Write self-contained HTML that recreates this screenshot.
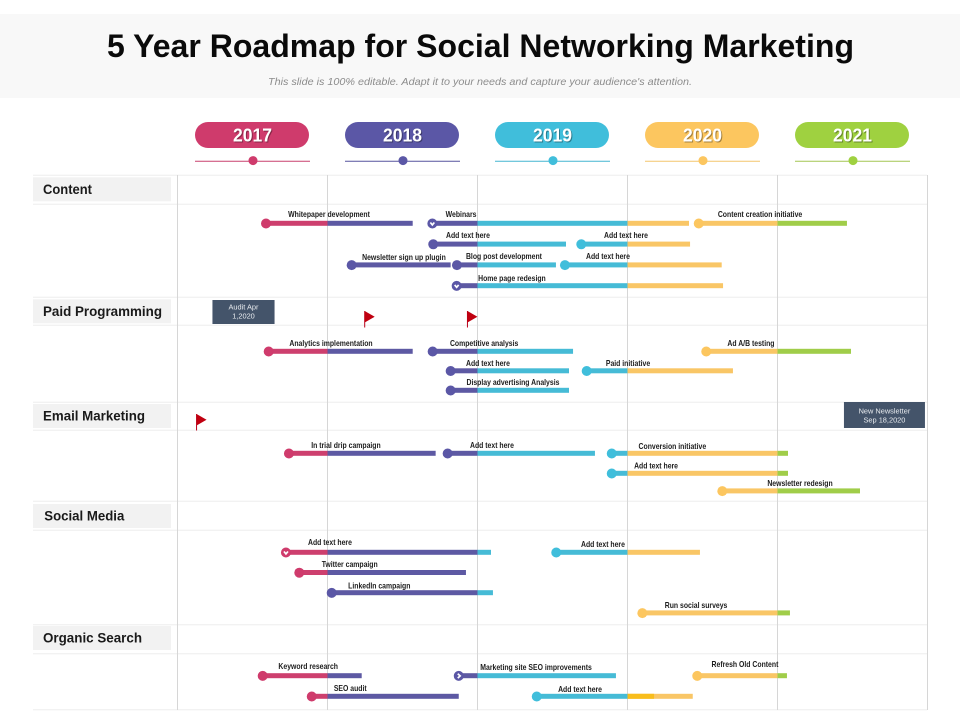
<!DOCTYPE html>
<html lang="en">
<head>
<meta charset="utf-8">
<title>5 Year Roadmap for Social Networking Marketing</title>
<style>
html,body{margin:0;padding:0;background:#fff;}
svg{display:block;font-family:"Liberation Sans",Arial,sans-serif;}
</style>
</head>
<body>
<svg id="chart" width="960" height="720" viewBox="0 0 960 720">
  <rect x="0" y="14" width="960" height="84" fill="#f8f8f8"></rect>
  <text x="480.5" y="57" text-anchor="middle" font-size="32" font-weight="700" fill="#0a0a0a" textLength="747" lengthAdjust="spacing">5 Year Roadmap for Social Networking Marketing</text>
  <text x="480" y="85" text-anchor="middle" font-size="10.5" font-style="italic" fill="#8c8c8c" textLength="424" lengthAdjust="spacingAndGlyphs">This slide is 100% editable. Adapt it to your needs and capture your audience's attention.</text>
</svg>
<script>
const years = [2017, 2018, 2019, 2020, 2021];
const gridYears = [2017, 2018, 2019, 2020, 2021, 2022];
const sectionNames = ["Content", "Paid Programming", "Email Marketing", "Social Media", "Organic Search"];

const taskNames = ["Whitepaper development", "Webinars", "Content creation initiative", "Add text here", "Add text here", "Newsletter sign up plugin", "Blog post development", "Add text here", "Home page redesign", "Analytics implementation", "Competitive analysis", "Ad A/B testing", "Add text here", "Paid initiative", "Display advertising Analysis", "In trial drip campaign", "Add text here", "Conversion initiative", "Add text here", "Newsletter redesign", "Add text here", "Add text here", "Twitter campaign", "LinkedIn campaign", "Run social surveys", "Keyword research", "Marketing site SEO improvements", "Refresh Old Content", "SEO audit", "Add text here"];
const taskStarts = [2017.590, 2018.699, 2020.475, 2018.705, 2019.692, 2018.161, 2018.863, 2019.583, 2018.861, 2017.608, 2018.701, 2020.525, 2018.821, 2019.728, 2018.821, 2017.743, 2018.801, 2019.895, 2019.895, 2020.632, 2017.723, 2019.525, 2017.812, 2018.028, 2020.099, 2017.568, 2018.875, 2020.465, 2017.895, 2019.395];
const taskEnds = [2018.568, 2020.410, 2021.463, 2019.590, 2020.417, 2018.821, 2019.523, 2020.628, 2020.637, 2018.568, 2019.637, 2021.490, 2019.610, 2020.703, 2019.610, 2018.721, 2019.783, 2021.070, 2021.070, 2021.550, 2019.090, 2020.483, 2018.923, 2019.103, 2021.083, 2018.228, 2019.923, 2021.063, 2018.875, 2020.435];
const taskSections = [0, 0, 0, 0, 0, 0, 0, 0, 0, 1, 1, 1, 1, 1, 1, 2, 2, 2, 2, 2, 3, 3, 3, 3, 3, 4, 4, 4, 4, 4];
const taskLanes = [0, 0, 0, 1, 1, 2, 2, 2, 3, 0, 0, 0, 1, 1, 2, 0, 0, 0, 1, 1.88, 0, 0, 1, 2, 3, 0, 0, 0, 1, 1];
const taskMarkers = ["dot", "down", "dot", "dot", "dot", "dot", "dot", "dot", "down", "dot", "dot", "dot", "dot", "dot", "dot", "dot", "dot", "dot", "dot", "dot", "down", "dot", "dot", "dot", "dot", "dot", "right", "dot", "dot", "dot"];

const highlightTask = 29;
const highlightStart = 2020;
const highlightEnd = 2020.177;

const flagYears = [2018.248, 2018.933, 2017.127];
const flagSections = [1, 1, 2];
const calloutLines = [["Audit Apr", "1,2020"], ["New Newsletter", "Sep 18,2020"]];
const calloutStarts = [2017.233, 2021.443];
const calloutEnds = [2017.647, 2021.983];
const calloutSections = [1, 2];

const svg = document.getElementById('chart');
const NS = 'http://www.w3.org/2000/svg';
const yearColors = ['#cf3b6c', '#5b57a6', '#40bedb', '#fcc65f', '#9fd140'];
const barColors = ['#cd3f6e', '#5d59a3', '#46bbd6', '#f9c666', '#a0cd49'];
const ruleColors = ['#c8406f', '#57549d', '#45b5d1', '#f3c66d', '#a3c552'];

function xScale(year) { return 177.5 + (year - 2017) * 150; }

const sectionBase = [223.3, 351.3, 453.3, 552.3, 675.7];
const sectionStep = [20.8, 19.5, 20, 20.2, 20.6];
function yScale(section, lane) { return sectionBase[section] + lane * sectionStep[section]; }

function make(tag, attrs, parent) {
  const el = document.createElementNS(NS, tag);
  for (const key in attrs) el.setAttribute(key, attrs[key]);
  (parent || svg).appendChild(el);
  return el;
}

function yearIndex(v) { return Math.max(0, Math.min(years.length - 1, Math.floor(v) - years[0])); }

function drawGrid() {
  const rows = [175.3, 204.3, 297.3, 325.3, 402.3, 430.3, 501.3, 530.3, 624.7, 653.7, 709.7];
  rows.forEach(function (y) {
    const line = make('line', { x1: 33, x2: 927, y1: y, y2: y, stroke: '#ededed', 'stroke-width': 1 });
    
    
  });
  gridYears.forEach(function (yr) {
    const x = xScale(yr);
    const line = make('line', { x1: x, x2: x, y1: 175, y2: 710, stroke: '#d6d6d6', 'stroke-width': 1 });
    
    
  });
}

function drawYears() {
  years.forEach(function (yr, i) {
    const cx = xScale(yr + 0.5);
    const pill = make('rect', { x: cx - 57.5, y: 122, width: 114, height: 26, rx: 13, fill: yearColors[i] });
    
    
    const label = make('text', { x: cx, y: 141.5, 'text-anchor': 'middle', 'font-size': 18.5, 'font-weight': 700, fill: '#fff', style: 'filter:drop-shadow(1px 1px 0 rgba(0,0,0,.35))', textLength: 39, lengthAdjust: 'spacingAndGlyphs' });
    label.textContent = yr;
    
    
    const rule = make('line', { x1: cx - 57.5, x2: cx + 57.5, y1: 161.3, y2: 161.3, stroke: ruleColors[i], 'stroke-width': 1 });
    
    
    const dot = make('circle', { cx: cx + 0.5, cy: 160.6, r: 4.5, fill: yearColors[i] });
    
    
  });
}

function drawSections() {
  const tops = [177.3, 299.3, 404, 504, 626];
  const textX = [43, 43, 43, 44.3, 43];
  const widths = [49, 119, 102, 80, 99];
  sectionNames.forEach(function (name, i) {
    const box = make('rect', { x: 33, y: tops[i], width: 138, height: 24, fill: '#f2f2f2' });
    
    
    const label = make('text', { x: textX[i], y: tops[i] + 16.5, 'font-size': 13.5, 'font-weight': 700, fill: '#1a1a1a', textLength: widths[i], lengthAdjust: 'spacingAndGlyphs' });
    label.textContent = name;
    
    
  });
}

function drawCallouts() {
  const tops = [300, 402];
  const heights = [24, 26];
  const lineTops = [[307, 316], [411, 420]];
  calloutLines.forEach(function (lines, i) {
    const x0 = xScale(calloutStarts[i]);
    const x1 = xScale(calloutEnds[i]);
    const box = make('rect', { x: x0, y: tops[i], width: x1 - x0, height: heights[i], fill: '#44546a' });
    
    
    lines.forEach(function (txt, j) {
      const t = make('text', { x: (x0 + x1) / 2, y: lineTops[i][j] + 2.5, 'text-anchor': 'middle', 'font-size': 7.4, fill: '#e8ebef' });
      t.textContent = txt;
      
      
    });
  });
}

function drawFlags() {
  const tops = [311, 311, 414];
  flagYears.forEach(function (yr, i) {
    const x = xScale(yr);
    const y = tops[i];
    const pole = make('line', { x1: x, x2: x, y1: y, y2: y + 16.5, stroke: '#b8001a', 'stroke-width': 1 });
    
    
    const flag = make('polygon', { points: x + ',' + y + ' ' + (x + 10) + ',' + (y + 5.7) + ' ' + x + ',' + (y + 11.5), fill: '#c00010' });
    
    
  });
}

function drawTasks() {
  const labelDx = [63, 28.7, 61.3, 34.7, 44.7, 52.3, 47, 43, 55.3, 62.3, 51.5, 44.7, 37.3, 41.3, 62.3, 57, 44.3, 60.6, 44.3, 77.7, 44, 46.7, 50.4, 47.6, 53.7, 45.5, 77.3, 47.7, 38.5, 43.3];
  const labelDy = [-9, -9, -9, -9, -9, -7.7, -8.7, -8.7, -7.4, -8, -8, -8, -7.7, -7.7, -8, -8, -8, -7, -7.3, -7.7, -10, -8, -8.4, -7, -7.7, -9.4, -8.4, -11.4, -8, -7];
  taskNames.forEach(function (name, i) {
    const y = yScale(taskSections[i], taskLanes[i]);
    const s = taskStarts[i];
    const e = taskEnds[i];
    years.forEach(function (yr, k) {
      const a = Math.max(s, yr);
      const b = Math.min(e, yr + 1);
      if (b <= a) return;
      const seg = make('rect', { x: xScale(a), y: y - 2.5, width: xScale(b) - xScale(a), height: 5, fill: barColors[k] });
      
      
    });
    if (i === highlightTask) {
      const hi = make('rect', { x: xScale(highlightStart), y: y - 2.5, width: xScale(highlightEnd) - xScale(highlightStart), height: 5, fill: '#f8bd1c' });
      
      
    }
    const cx = xScale(s);
    const color = yearColors[yearIndex(s)];
    const dot = make('circle', { cx: cx, cy: y + 0.2, r: 5, fill: color });
    
    
    if (taskMarkers[i] !== 'dot') {
      const d = taskMarkers[i] === 'down'
        ? 'M' + (cx - 2) + ' ' + (y - 0.8) + 'L' + cx + ' ' + (y + 1.6) + 'L' + (cx + 2) + ' ' + (y - 0.8)
        : 'M' + (cx - 1) + ' ' + (y - 2) + 'L' + (cx + 1.4) + ' ' + (y + 0.2) + 'L' + (cx - 1) + ' ' + (y + 2.4);
      const chevron = make('path', { d: d, fill: 'none', stroke: '#fff', 'stroke-width': 1.7 });
      
      
    }
    const tx = cx + labelDx[i];
    const ty = y + labelDy[i] + 2.7;
    const label = make('text', { transform: 'translate(' + tx + ' ' + ty + ') scale(.86 1)', 'text-anchor': 'middle', 'font-size': 8, 'font-weight': 700, fill: '#1c1c1c' });
    label.textContent = name;
    
    
  });
}

drawGrid();
drawYears();
drawSections();
drawTasks();
drawCallouts();
drawFlags();
</script>
</body>
</html>
